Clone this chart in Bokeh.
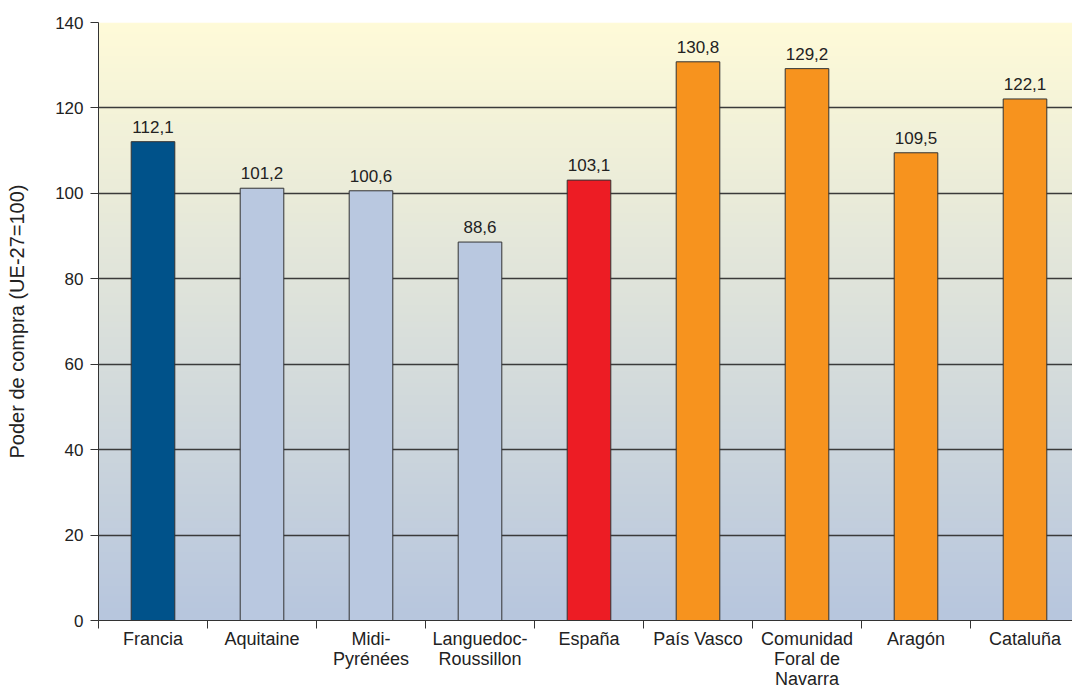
import numpy as np
from bokeh.plotting import figure
from bokeh.models import Range1d, FixedTicker, ColumnDataSource
from bokeh.embed import file_html
from bokeh.resources import INLINE
from bokeh.core.properties import value

# Purchasing power by region (EU-27 = 100)
categories = ["Francia", "Aquitaine", "Midi-\nPyrénées", "Languedoc-\nRoussillon", "España",
              "País Vasco", "Comunidad\nForal de\nNavarra", "Aragón", "Cataluña"]
values = [112.1, 101.2, 100.6, 88.6, 103.1, 130.8, 129.2, 109.5, 122.1]
colors = ["#00528a", "#b9c8e0", "#b9c8e0", "#b9c8e0", "#ed1c24",
          "#f7931e", "#f7931e", "#f7931e", "#f7931e"]
y_ticks = [0, 20, 40, 60, 80, 100, 120, 140]

FONT = "Liberation Sans"
TEXT = "#222222"
n = len(categories)
centers = [i + 0.5 for i in range(n)]
labels = [f"{v:.1f}".replace(".", ",") for v in values]

W = 1072
left, top = 98, 22
frame_w = W - left
x_end = n * frame_w / (1079 - left)   # last category runs past the right edge

p = figure(frame_width=frame_w, frame_height=598, output_backend="svg", toolbar_location=None,
           x_range=Range1d(0, x_end), y_range=Range1d(0, 140),
           min_border_left=left, min_border_right=0, min_border_top=top, min_border_bottom=0,
           background_fill_color="white", border_fill_color="white")
p.outline_line_color = None

# vertical background gradient: pale yellow at top to light blue at bottom
rows = 300
t = np.linspace(0, 1, rows)[:, None]
c_bot = np.array([183, 198, 222])
c_top = np.array([255, 251, 216])
rgb = (c_bot + (c_top - c_bot) * t).astype(np.uint32)
img = np.empty((rows, 1), dtype=np.uint32)
view = img.view(dtype=np.uint8).reshape((rows, 1, 4))
view[:, :, 0] = rgb[:, 0:1]
view[:, :, 1] = rgb[:, 1:2]
view[:, :, 2] = rgb[:, 2:3]
view[:, :, 3] = 255
p.image_rgba(image=[img], x=0, y=0, dw=x_end, dh=140, level="image")

src = ColumnDataSource(dict(x=centers, top=values, color=colors, label=labels))
p.vbar(x="x", top="top", bottom=0, width=0.4, source=src,
       fill_color="color", line_color="#333333", line_width=1)
p.text(x="x", y="top", text="label", source=src, text_align="center",
       text_baseline="bottom", y_offset=-9, text_font=value(FONT),
       text_font_size="17px", text_color=TEXT)

# grid
p.xgrid.grid_line_color = None
p.ygrid.ticker = FixedTicker(ticks=y_ticks)
p.ygrid.grid_line_color = "#3a3a3a"
p.ygrid.grid_line_width = 1.3
p.ygrid.level = "underlay"

# y axis
p.yaxis.ticker = FixedTicker(ticks=y_ticks)
p.yaxis.axis_label = "Poder de compra (UE-27=100)"
p.yaxis.axis_label_text_font = FONT
p.yaxis.axis_label_text_font_style = "normal"
p.yaxis.axis_label_text_font_size = "20px"
p.yaxis.axis_label_text_color = TEXT
p.yaxis.axis_label_standoff = 24
p.yaxis.major_label_text_font = FONT
p.yaxis.major_label_text_font_size = "17px"
p.yaxis.major_label_text_color = TEXT
p.yaxis.major_tick_in = 0
p.yaxis.major_tick_out = 8
p.yaxis.minor_tick_line_color = None
p.yaxis.axis_line_color = "#333333"
p.yaxis.major_tick_line_color = "#333333"
p.yaxis.major_label_standoff = 7

# x axis: labels centred on bars, ticks on category boundaries
p.xaxis.ticker = FixedTicker(ticks=centers, minor_ticks=list(range(n + 1)))
p.xaxis.major_label_overrides = {c: lab for c, lab in zip(centers, categories)}
p.xaxis.major_tick_line_color = None
p.xaxis.major_tick_in = 0
p.xaxis.major_tick_out = 0
p.xaxis.minor_tick_in = 0
p.xaxis.minor_tick_out = 8
p.xaxis.minor_tick_line_color = "#333333"
p.xaxis.axis_line_color = "#333333"
p.xaxis.major_label_text_font = FONT
p.xaxis.major_label_text_font_size = "18px"
p.xaxis.major_label_text_line_height = 1.0
p.xaxis.major_label_text_color = TEXT
p.xaxis.major_label_standoff = 0

html = file_html(p, INLINE)
html = html.replace("<head>", "<head><style>html,body{margin:0;overflow:hidden}</style>", 1)
open("out.html", "w").write(html)
